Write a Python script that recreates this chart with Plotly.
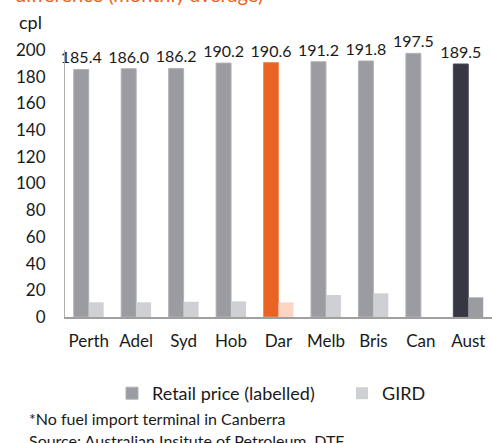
import plotly.graph_objects as go

categories = ["Perth", "Adel", "Syd", "Hob", "Dar", "Melb", "Bris", "Can", "Aust"]
retail = [185.4, 186.0, 186.2, 190.2, 190.6, 191.2, 191.8, 197.5, 189.5]
gird = [11.0, 11.0, 11.4, 11.7, 10.9, 16.5, 17.7, None, 14.7]
y_ticks = [0, 20, 40, 60, 80, 100, 120, 140, 160, 180, 200]

GRAY = "#9b9ca1"
LIGHT = "#cfd0d4"
ORANGE = "#e96424"
ORANGE_L = "#fad5c3"
DARK = "#363742"

retail_colors = [ORANGE if c == "Dar" else DARK if c == "Aust" else GRAY for c in categories]
retail_edges = ["#f08c5c" if c == "Dar" else "#4a4b56" if c == "Aust" else "#b0b1b5" for c in categories]
gird_colors = [ORANGE_L if c == "Dar" else GRAY if c == "Aust" else LIGHT for c in categories]

FONT = "Lato, 'Open Sans', sans-serif"
TXT = "#1a1a1a"

fig = go.Figure()
fig.add_trace(go.Bar(
    x=categories, y=retail, name="Retail price (labelled)",
    marker=dict(color=retail_colors, line=dict(width=1, color=retail_edges)),
    text=[f"{v:.1f}" for v in retail], textposition="outside",
    constraintext="none",
    textfont=dict(size=16, color=TXT, family=FONT),
    cliponaxis=False, legend="legend",
))
fig.add_trace(go.Bar(
    x=categories, y=gird, name="GIRD",
    marker=dict(color=gird_colors, line=dict(width=0)),
    legend="legend2",
))

W, H = 492, 443
L, R = 65, 0
top, bottom = 50, 126
plot_h = H - top - bottom
plot_w = W - L - R

def py(pix):
    return (H - bottom - pix) / plot_h

def px(pix):
    return (pix - L) / plot_w

leg_common = dict(orientation="h", yanchor="top", y=py(375),
                  font=dict(size=18, family=FONT, color=TXT),
                  bgcolor="rgba(0,0,0,0)")

fig.update_layout(
    width=W, height=H,
    margin=dict(l=L, r=R, t=top, b=bottom),
    paper_bgcolor="white", plot_bgcolor="white",
    barmode="group", bargap=0.37, bargroupgap=0,
    font=dict(family=FONT, size=17, color=TXT),
    showlegend=True,
    legend=dict(x=px(112), xanchor="left", **leg_common),
    legend2=dict(x=px(342), xanchor="left", **leg_common),
    xaxis=dict(
        range=[-0.5, 8.5], showline=True, linecolor="#a0a0a0", linewidth=2,
        ticks="", showgrid=False, ticklabelstandoff=8,
        tickfont=dict(size=17, family=FONT, color=TXT),
    ),
    yaxis=dict(
        range=[0, 200], tickvals=y_ticks, showline=True, linecolor="#b0b0b0",
        linewidth=1, ticks="", showgrid=False, zeroline=False,
        ticklabelstandoff=15,
        tickfont=dict(size=17, family=FONT, color=TXT),
    ),
    annotations=[
        dict(text="difference (monthly average)", xref="paper", yref="paper",
             x=px(13), y=py(8), xanchor="left", yanchor="bottom", showarrow=False,
             font=dict(size=20, color=ORANGE, family=FONT)),
        dict(text="cpl", xref="paper", yref="paper", x=px(17), y=py(22),
             xanchor="left", yanchor="middle", showarrow=False,
             font=dict(size=18, family=FONT, color=TXT)),
        dict(text="*No fuel import terminal in Canberra", xref="paper", yref="paper",
             x=px(27), y=py(418), xanchor="left", yanchor="middle", showarrow=False,
             font=dict(size=16, family=FONT, color=TXT)),
        dict(text="Source: Australian Insitute of Petroleum, DTF", xref="paper", yref="paper",
             x=px(27), y=py(440), xanchor="left", yanchor="middle", showarrow=False,
             font=dict(size=16, family=FONT, color=TXT)),
    ],
)

fig.write_html("out.html", config={"displayModeBar": False},
               post_script="document.body.style.margin='0px';document.body.style.padding='0px';")
